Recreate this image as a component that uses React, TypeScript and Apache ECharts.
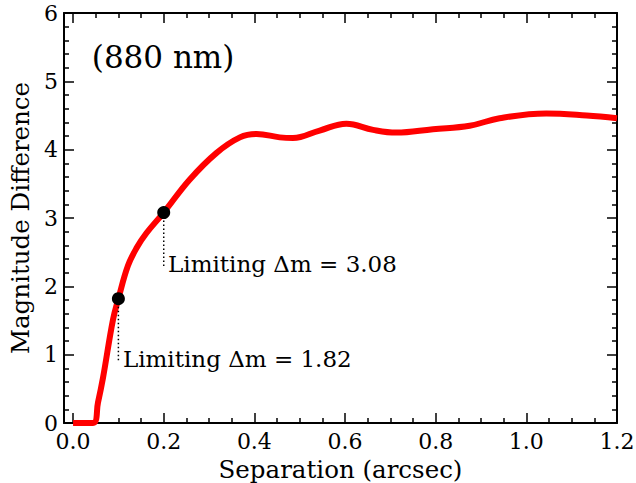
import React, { useEffect, useRef } from "react";
import * as echarts from "echarts";

const curveX = [0, 0.044, 0.055, 0.066, 0.088, 0.1, 0.121, 0.14, 0.162, 0.2, 0.257, 0.316, 0.368, 0.405, 0.456, 0.485, 0.544, 0.603, 0.662, 0.713, 0.794, 0.875, 0.941, 1.044, 1.133, 1.2];
const curveY = [0, 0, 0.3, 0.66, 1.51, 1.82, 2.3, 2.56, 2.78, 3.08, 3.56, 3.95, 4.18, 4.23, 4.18, 4.17, 4.28, 4.38, 4.29, 4.25, 4.3, 4.35, 4.46, 4.53, 4.5, 4.46];

const limitSep = [0.1, 0.2];
const limitDm = [1.82, 3.08];
const guideBottom = [0.886, 2.27];
const limitLabelPos = [[0.11, 0.94], [0.2096, 2.33]];
const titleText = "(880 nm)";
const titlePos = [0.0413, 5.35];

const xMajor = [0, 0.2, 0.4, 0.6, 0.8, 1.0, 1.2];
const xMinor = [0.05, 0.1, 0.15, 0.25, 0.3, 0.35, 0.45, 0.5, 0.55, 0.65, 0.7, 0.75, 0.85, 0.9, 0.95, 1.05, 1.1, 1.15];

const FONT = "DejaVu Serif";

export default function App() {
  const ref = useRef<HTMLDivElement>(null);
  useEffect(() => {
    document.body.style.margin = "0";
    const chart = echarts.init(ref.current!, null, { renderer: "svg" });
    const line = { lineStyle: { color: "#000", width: 2 }, onZero: false };
    const xBase = { type: "value", min: -0.02, max: 1.2, splitLine: { show: false } };
    const majorTick = (vals: number[]) => ({ show: true, inside: true, length: 10, customValues: vals, lineStyle: { color: "#000", width: 1.5 } });
    const minorTickX = { show: true, inside: true, length: 5, customValues: xMinor, lineStyle: { color: "#000", width: 1.5 } };
    const textStyle = { color: "#000", fontFamily: FONT };
    const option: any = {
      animation: false,
      grid: { left: 64, right: 19, top: 13, bottom: 60, containLabel: false, outerBoundsMode: "none" },
      xAxis: [
        {
          ...xBase, position: "bottom",
          axisLine: { show: true, ...line },
          axisTick: majorTick(xMajor),
          axisLabel: { show: true, customValues: xMajor, formatter: (v: number) => v.toFixed(1), ...textStyle, fontSize: 22, margin: 7 },
          name: "Separation (arcsec)", nameLocation: "middle", nameGap: 32,
          nameTextStyle: { ...textStyle, fontSize: 24.5 },
        },
        { ...xBase, position: "bottom", axisLine: { show: false, onZero: false }, axisTick: minorTickX, axisLabel: { show: false } },
        { ...xBase, position: "top", axisLine: { show: true, ...line }, axisTick: majorTick(xMajor), axisLabel: { show: false } },
        { ...xBase, position: "top", axisLine: { show: false, onZero: false }, axisTick: minorTickX, axisLabel: { show: false } },
      ],
      yAxis: [
        {
          type: "value", min: 0, max: 6, interval: 1, position: "left",
          axisLine: { show: true, ...line },
          axisTick: { show: true, inside: true, length: 10, lineStyle: { color: "#000", width: 1.5 } },
          minorTick: { show: true, splitNumber: 5, length: 5, lineStyle: { color: "#000", width: 1.5 } },
          axisLabel: { show: true, ...textStyle, fontSize: 22, margin: 6 },
          splitLine: { show: false }, minorSplitLine: { show: false },
          name: "Magnitude Difference", nameLocation: "middle", nameGap: 31,
          nameTextStyle: { ...textStyle, fontSize: 24.5 },
        },
        {
          type: "value", min: 0, max: 6, interval: 1, position: "right",
          axisLine: { show: true, ...line },
          axisTick: { show: true, inside: true, length: 10, lineStyle: { color: "#000", width: 1.5 } },
          minorTick: { show: true, splitNumber: 5, length: 5, lineStyle: { color: "#000", width: 1.5 } },
          axisLabel: { show: false },
          splitLine: { show: false }, minorSplitLine: { show: false },
        },
      ],
      series: [
        {
          type: "line", xAxisIndex: 0, yAxisIndex: 0, smooth: 0.4, symbol: "none",
          data: curveX.map((x, i) => [x, curveY[i]]),
          lineStyle: { color: "#ff0000", width: 6 }, z: 2,
        },
        ...limitSep.map((x, i) => ({
          type: "line", xAxisIndex: 0, yAxisIndex: 0, symbol: "none",
          data: [[x, limitDm[i]], [x, guideBottom[i]]],
          lineStyle: { color: "#000", width: 1.5, type: [1.5, 2.5] }, z: 3,
        })),
        {
          type: "scatter", xAxisIndex: 0, yAxisIndex: 0, symbolSize: 13,
          itemStyle: { color: "#000", opacity: 1 }, z: 5,
          data: limitSep.map((x, i) => [x, limitDm[i]]),
        },
        {
          type: "scatter", xAxisIndex: 0, yAxisIndex: 0, symbolSize: 0, z: 6,
          itemStyle: { opacity: 1 },
          data: limitLabelPos.map((p, i) => ({ value: p, name: "Limiting Δm = " + limitDm[i].toFixed(2) })),
          label: { show: true, position: "right", distance: 0, formatter: (p: any) => p.name, ...textStyle, fontSize: 23 },
        },
        {
          type: "scatter", xAxisIndex: 0, yAxisIndex: 0, symbolSize: 0, z: 6,
          itemStyle: { opacity: 1 },
          data: [{ value: titlePos, name: titleText }],
          label: { show: true, position: "right", distance: 0, formatter: (p: any) => p.name, ...textStyle, fontSize: 31 },
        },
      ],
    };
    chart.setOption(option);
    return () => chart.dispose();
  }, []);
  return <div ref={ref} style={{ width: 636, height: 483 }} />;
}
